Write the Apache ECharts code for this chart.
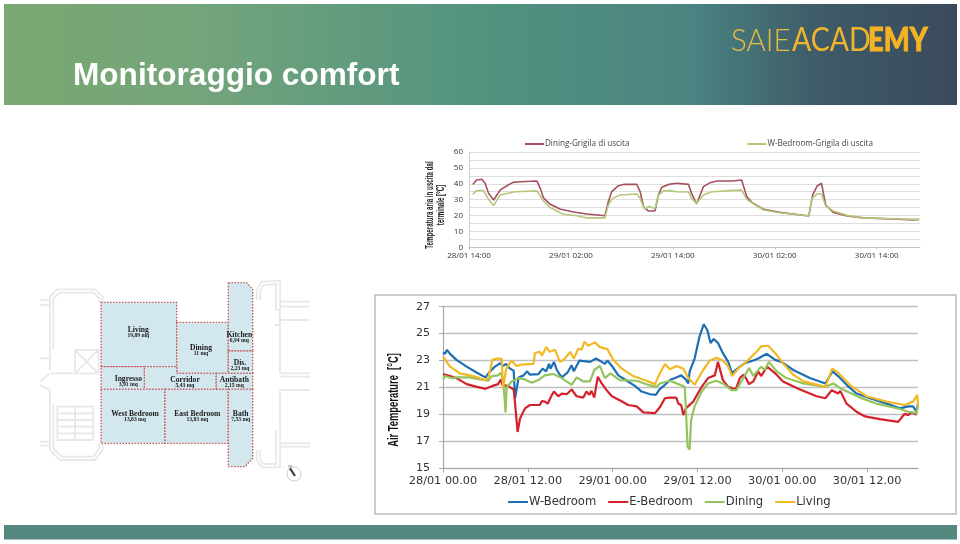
<!DOCTYPE html>
<html>
<head>
<meta charset="utf-8">
<style>html,body{margin:0;padding:0;background:#fff}#c{width:960px;height:544px;filter:blur(0.35px)}</style>
<script src="https://cdn.jsdelivr.net/npm/echarts@6/dist/echarts.min.js"></script>
</head>
<body>
<div id="c"></div>
<script>
// ---- main chart: [hours since 28/01 00.00, air temperature °C]
const airTicks = ['28/01 00.00','28/01 12.00','29/01 00.00','29/01 12.00','30/01 00.00','30/01 12.00'];
const wBedroom = [[0,23.6],[.3,23.5],[.57,23.8],[1,23.5],[1.9,23.05],[3.35,22.55],[4.8,22.1],[6,21.75],[6.65,22.2],[7.35,22.55],[8.1,22.8],[8.5,22.6],[8.9,22.75],[9.5,22.4],[10,22.25],[10.2,20.2],[10.7,21.75],[11.4,21.9],[11.9,22.2],[12.3,21.95],[13.5,22],[14.1,22.4],[14.6,22.2],[15,22.75],[15.2,22.4],[15.7,22.9],[16.1,22.3],[16.8,21.75],[17.6,22.1],[18.2,22.65],[18.5,22.2],[19.3,23],[20.8,22.9],[21.65,23.15],[22.45,22.9],[22.9,22.75],[23.25,23],[23.9,22.6],[24.8,21.9],[26,21.5],[27.2,21.1],[28.1,20.7],[29.3,20.5],[30.1,20.45],[30.7,20.9],[31.4,21.2],[32.1,21.55],[33,21.75],[33.7,21.9],[34.35,21.6],[34.7,21.3],[34.9,22.2],[35.6,23.15],[36.3,24.8],[36.9,25.7],[37.4,25.25],[37.85,24.3],[38.3,24.6],[38.9,24.3],[39.6,23.55],[40.35,22.9],[40.9,22.05],[41.4,22.3],[42,22.55],[42.7,22.8],[43.9,23],[44.6,23.15],[45.8,23.5],[47,23.05],[47.9,22.9],[49.55,22.3],[51.9,21.7],[54.1,21.3],[55.1,22.2],[55.9,21.85],[57.1,21.2],[58.5,20.55],[60.4,20.2],[62.75,19.8],[64.65,19.45],[65.8,19.6],[66.5,19.6],[67,19.2],[67.2,19.8]];
const eBedroom = [[0,22],[1,21.85],[1.9,21.7],[3.35,21.25],[4.8,21.05],[6,20.9],[6.9,21.1],[7.8,21.25],[8.2,21.6],[8.4,21.2],[9.25,21.1],[10,20.85],[10.2,19.8],[10.55,17.7],[10.9,18.7],[11.6,19.45],[12.3,19.7],[13.7,19.7],[14,20],[14.4,19.95],[14.8,19.8],[15.4,20.45],[15.7,20.7],[16.3,20.35],[16.8,20.55],[17.5,20.5],[18.2,20.85],[18.9,20.35],[19.85,20.25],[20.3,20.7],[20.7,20.45],[21,20.75],[21.4,20.25],[21.9,21.8],[22.45,21.3],[23.15,20.8],[23.9,20.35],[25,20.05],[26.2,19.7],[27.4,19.6],[28.35,19.15],[30,19.1],[30.7,19.55],[31.4,20.2],[32.1,20.25],[33,20.25],[33.3,19.8],[33.7,19.7],[34,18.95],[34.35,19.45],[35.4,19.95],[36.6,21.05],[37.5,21.7],[38.45,21.9],[38.9,22.9],[39.6,21.55],[40.35,21.05],[41.4,20.85],[42,21.7],[42.5,21.95],[42.85,21.7],[43.3,21.25],[43.9,21.45],[44.6,22.2],[45,21.85],[45.85,22.55],[47,22.05],[48.1,21.45],[50.5,20.85],[52.85,20.35],[54.1,20.2],[55,20.8],[55.9,20.55],[56.2,20.75],[57.1,19.8],[58.5,19.2],[59.7,18.85],[61.8,18.65],[64.4,18.45],[65.3,19.05],[65.8,18.95],[66.3,19.15],[67,19]];
const dining = [[0,21.6],[.3,21.85],[1.2,21.7],[1.9,21.75],[3.8,21.75],[5.2,21.6],[6.4,21.5],[6.9,21.85],[7.8,21.9],[8.2,22.1],[8.5,21.55],[8.7,20.3],[8.85,19.15],[9,21],[9.7,21.45],[10.7,21.7],[11.6,21.6],[12.55,21.35],[13.5,21.55],[14,21.75],[14.4,21.9],[15.6,22],[16.8,21.7],[18.2,21.2],[18.9,21.75],[19.85,21.45],[20.8,21.45],[21.4,22.3],[22.2,22.6],[22.9,21.7],[23.7,22.05],[25,21.55],[27.4,21.5],[29,21.2],[30.2,21.05],[30.7,21.3],[32.1,21.5],[33.3,21.25],[34.2,21.05],[34.35,19.6],[34.6,16.6],[34.9,16.4],[35.1,18.6],[35.6,19.6],[36.6,20.7],[37.5,21.3],[38.65,21.5],[39.6,21.3],[40.8,20.8],[41.5,20.8],[42.2,21.45],[43.3,22.45],[43.9,21.85],[45,22.55],[45.5,22.3],[46.1,22.9],[47.2,22.2],[48.6,21.7],[51,21.3],[54.1,21.05],[55.2,21.3],[56.2,20.95],[59,20.25],[61.35,19.8],[64.65,19.4],[65.8,19.2],[67,19.1],[67.2,19.7]];
const living = [[0,23.3],[1,22.55],[2.4,22.05],[4.3,21.85],[5.95,21.55],[6.4,21.7],[7,23.05],[7.6,23.15],[8.3,23.15],[8.5,20.95],[8.9,22.3],[9.25,22.65],[9.7,23],[10.4,22.6],[11.1,22.7],[12.8,22.75],[13,23.55],[13.7,23.65],[14,23.35],[14.6,24],[15.1,23.65],[15.85,23.8],[16.55,22.9],[17.25,23.15],[18,23.65],[18.5,23.15],[19.15,23.9],[19.6,23.8],[20,24.4],[20.55,24.1],[21.5,24.35],[22.2,24],[23.25,23.85],[24.1,23.05],[25.3,22.4],[26.9,21.85],[28.8,21.5],[30,21.25],[30.67,22.05],[31.4,22.75],[32.1,22.35],[33,22.6],[34,22.4],[34.7,21.7],[35.6,21.2],[36.8,22.3],[37.75,23],[38.7,23.2],[39.6,23],[40.35,22.55],[40.9,21.85],[41.75,22.4],[42.9,22.9],[44.35,23.65],[45,24.05],[46,24.1],[47,23.55],[48.1,22.8],[49.55,21.95],[51,21.45],[54.1,21.05],[55.05,22.4],[55.9,22.1],[57.55,21.2],[59.9,20.35],[62.75,19.95],[65.3,19.7],[66.5,19.95],[67.1,20.45],[67.2,19.6]];

// ---- upper chart: [hours since 28/01 14:00, outlet air temperature °C]
const outletTicks = ['28/01 14:00','29/01 02:00','29/01 14:00','30/01 02:00','30/01 14:00'];
const diningOutlet = [[.45,39.6],[.9,42.4],[1.5,42.8],[1.9,40.3],[2.3,34],[2.9,29.8],[3.65,36],[4.6,39.2],[5.2,40.9],[6,41.3],[8,41.7],[8.4,37.1],[8.75,31.3],[9.5,27.3],[10.7,24.1],[12.3,22.2],[13.9,21],[16,19.9],[16.4,28.7],[16.8,35],[17.6,38.8],[18.2,39.6],[19.75,39.6],[20.15,35],[20.55,25.6],[21.1,22.9],[21.9,22.9],[22.3,32.9],[22.7,37.8],[23.5,39.6],[24.45,40.3],[25.85,39.6],[26.2,34],[26.8,27.3],[27.6,38.2],[28.4,40.7],[29.2,41.7],[31,41.7],[32.1,42.4],[32.7,31.9],[33.3,28.3],[34.7,23.9],[36.6,22],[40,19.7],[40.45,32.9],[41,38.6],[41.5,40.3],[42,26.6],[42.9,22],[44.5,19.7],[46.45,18.5],[50,17.8],[52.3,17.2],[53,17.6]];
const wBedroomOutlet = [[.45,33.4],[.9,35.7],[1.7,35.7],[2.3,30.2],[2.9,26.2],[3.65,32.9],[4.6,34],[5.4,35],[8,35.5],[8.75,29.2],[9.5,25.2],[11.1,20.8],[12.7,19.9],[13.9,18.5],[16,18.5],[16.4,26.6],[16.9,30.8],[17.8,32.9],[19.75,33.6],[20.15,30.8],[20.6,24.5],[21.3,25.6],[21.9,24.5],[22.3,32.9],[22.9,35.5],[23.7,35.7],[24.45,35],[25.85,34.8],[26.2,30.8],[26.8,27.7],[27.6,32.9],[28.6,35],[30.75,35.7],[32.1,36],[32.7,30.2],[33.5,27.3],[34.7,23.5],[36.6,21.8],[40,19.9],[40.4,30.8],[41,33.6],[41.5,33.6],[42,26],[42.9,22.9],[44.5,20.1],[46.45,18.5],[50,18],[53,17.6]];

// ---- floor plan room labels: [name, area]
const roomNames = ['Living','Dining','Kitchen','Dis.','Ingresso','Corridor','Antibath','West Bedroom','East Bedroom','Bath'];
const roomAreas = ['19,89 mq','11 mq','6,94 mq','2,23 mq','3,91 mq','5,43 mq','2,15 mq','13,83 mq','13,83 mq','7,53 mq'];

// decoration layout (slide furniture, not data)
const P = (x,y)=>[30+x/3,270+y/3];
const roomLabelAt = [[325,181],[513,233],[628,196],[630,279],[295,328],[465,329],[613,329],[315,431],[502,431],[632,432]];
const roomShapes = [
 [[213,97],[440,97],[440,290],[213,290]],
 [[440,157],[595,157],[595,310],[440,310]],
 [[595,38],[650,38],[668,58],[668,243],[595,243]],
 [[595,243],[668,243],[668,310],[595,310]],
 [[558,310],[668,310],[668,358],[558,358]],
 [[343,290],[440,290],[440,310],[558,310],[558,358],[343,358]],
 [[213,290],[343,290],[343,358],[213,358]],
 [[213,358],[405,358],[405,520],[213,520]],
 [[405,358],[595,358],[595,520],[405,520]],
 [[595,358],[668,358],[668,565],[645,590],[595,590]]
];
const wallLines = [
 [[60,300],[60,80],[80,58],[195,58],[218,80],[218,97]],
 [[70,240],[70,85],[88,68],[190,68],[208,85],[208,97]],
 [[60,360],[60,540],[90,570],[195,570],[218,540],[218,520]],
 [[70,400],[70,535],[95,560],[190,560],[208,535],[208,520]],
 [[30,90],[60,90]],[[30,105],[60,105]],[[30,515],[60,515]],[[30,527],[60,527]],
 [[30,265],[60,265]],[[30,335],[60,310]],[[30,345],[60,360]],
 [[135,240],[205,240],[205,310],[135,310],[135,240],[205,310]],[[205,240],[135,310]],
 [[62,310],[130,310]],
 [[82,410],[190,410],[190,510],[82,510],[82,410]],[[82,430],[190,430]],[[82,450],[190,450]],[[82,470],[190,470]],[[82,490],[190,490]],[[135,410],[135,510]],
 [[680,90],[680,60],[695,35],[750,32],[750,310]],[[690,90],[690,65],[700,45],[738,42],[738,120]],
 [[680,540],[680,570],[695,592],[750,592],[750,360]],[[690,540],[690,565],[700,582],[738,582],[738,480]],
 [[750,95],[840,95]],[[750,110],[840,110]],[[750,520],[840,520]],[[750,530],[840,530]],
 [[750,150],[840,150]],[[750,310],[840,310]],[[750,320],[840,320]],[[750,360],[840,360]],
 [[735,120],[750,120],[750,165],[735,165]]
];

const gfx = [];
gfx.push({type:'rect',silent:true,shape:{x:4,y:4,width:953,height:101},style:{fill:{type:'linear',x:0,y:0,x2:1,y2:0,colorStops:[{offset:0,color:'#7aa871'},{offset:.2,color:'#74a57b'},{offset:.5,color:'#52937f'},{offset:.72,color:'#4a8481'},{offset:.85,color:'#3f5c68'},{offset:1,color:'#3a4a5c'}]}}});
gfx.push({type:'rect',silent:true,shape:{x:4,y:525,width:953,height:14.5},style:{fill:'#55887e'}});
gfx.push({type:'text',silent:true,x:73,y:60,style:{text:'Monitoraggio comfort',fill:'#ffffff',font:'bold 31.6px "Liberation Sans"'}});
gfx.push({type:'text',silent:true,x:731,y:25,scaleX:.92,style:{text:'SAIE',fill:'#e8bd45',font:'300 32px Lato'}});
gfx.push({type:'text',silent:true,x:792,y:25,scaleX:.89,style:{text:'ACAD',fill:'#efb52f',font:'400 32px Lato'}});
gfx.push({type:'text',silent:true,x:868,y:25,scaleX:.855,style:{text:'EMY',fill:'#f5b324',stroke:'#f5b324',lineWidth:.9,font:'900 32px Lato'}});
gfx.push({type:'rect',silent:true,shape:{x:375,y:295,width:581,height:219},style:{fill:'none',stroke:'#bdbdbd',lineWidth:1.5}});
gfx.push({type:'text',silent:true,x:394,y:400,rotation:Math.PI/2,scaleX:.67,style:{text:'Air Temperature  [°C]',fill:'#111',font:'bold 14px "Liberation Sans"',textAlign:'center',textVerticalAlign:'middle'}});
gfx.push({type:'text',silent:true,x:435.5,y:205,rotation:Math.PI/2,scaleX:.62,style:{text:'Temperatura aria in uscita dal\nterminale [°C]',fill:'#222',font:'bold 10px "Liberation Sans"',lineHeight:11,textAlign:'center',textVerticalAlign:'middle'}});
wallLines.forEach(l=>gfx.push({type:'polyline',silent:true,shape:{points:l.map(p=>P(p[0],p[1]))},style:{fill:'none',stroke:'#e8e8e8',lineWidth:1.8}}));
roomShapes.forEach(s=>gfx.push({type:'polygon',silent:true,shape:{points:s.map(p=>P(p[0],p[1]))},style:{fill:'#d3e7ee',stroke:'#c95a5a',lineWidth:1.4,lineDash:[1.5,1.5]}}));
gfx.push({type:'circle',silent:true,shape:{cx:P(792,612)[0],cy:P(792,612)[1],r:7},style:{fill:'#fff',stroke:'#cccccc',lineWidth:1}});
gfx.push({type:'line',silent:true,shape:{x1:P(780,595)[0],y1:P(780,595)[1],x2:P(795,618)[0],y2:P(795,618)[1]},style:{stroke:'#333',lineWidth:2}});
gfx.push({type:'text',silent:true,x:P(775,583)[0],y:P(775,583)[1],style:{text:'N',fill:'#444',font:'5px "Liberation Serif"'}});
roomNames.forEach((n,i)=>{
  const p=P(roomLabelAt[i][0],roomLabelAt[i][1]);
  gfx.push({type:'text',silent:true,x:p[0],y:p[1],style:{text:n,fill:'#1a1a1a',font:'bold 7.6px "Liberation Serif"',textAlign:'center',textVerticalAlign:'middle'}});
  gfx.push({type:'text',silent:true,x:p[0],y:p[1]+5.5,style:{text:roomAreas[i],fill:'#1a1a1a',font:'bold 5.6px "Liberation Serif"',textAlign:'center',textVerticalAlign:'middle'}});
});

const lineS=(name,data,color,w,xi)=>({name,type:'line',data,xAxisIndex:xi,yAxisIndex:xi,showSymbol:false,symbol:'none',smooth:false,animation:false,lineStyle:{color,width:w},itemStyle:{color}});

const chart = echarts.init(document.getElementById('c'));
chart.setOption({
  animation:false,
  backgroundColor:'#fff',
  graphic:{elements:gfx},
  tooltip:{show:false},
  legend:[
    {left:508,top:496,padding:0,icon:'rect',itemWidth:20,itemHeight:2,itemGap:12,selectedMode:false,
     data:['W-Bedroom','E-Bedroom','Dining','Living'],
     textStyle:{fontFamily:'DejaVu Sans',fontSize:11.6,color:'#333',padding:[0,0,0,-4]}},
    {left:525,top:140,padding:0,icon:'rect',itemWidth:19,itemHeight:2,itemGap:118,selectedMode:false,
     data:['Dining-Grigila di uscita','W-Bedroom-Grigila di uscita'],
     textStyle:{fontFamily:'Open Sans',fontSize:8.1,color:'#444',padding:[0,0,0,-4]}}
  ],
  grid:[
    {left:443,right:42,top:306.7,bottom:75.7},
    {left:469,right:40,top:152,bottom:296.7}
  ],
  xAxis:[
    {type:'value',gridIndex:0,min:0,max:67.2,interval:12,splitLine:{show:false},
     axisLine:{lineStyle:{color:'#a8a8a8',width:1.2}},
     axisTick:{length:4,lineStyle:{color:'#a8a8a8'},customValues:[0,12,24,36,48,60]},
     axisLabel:{customValues:[0,12,24,36,48,60],formatter:v=>airTicks[v/12]||'',color:'#333',fontFamily:'DejaVu Sans',fontSize:11.3,margin:7,hideOverlap:false}},
    {type:'value',gridIndex:1,min:0,max:53.1,interval:12,splitLine:{show:false},
     axisLine:{lineStyle:{color:'#c4c4c4',width:1}},
     axisTick:{length:2,lineStyle:{color:'#c4c4c4'},customValues:[0,12,24,36,48]},
     axisLabel:{customValues:[0,12,24,36,48],formatter:v=>outletTicks[v/12]||'',color:'#333',fontFamily:'Open Sans',fontSize:8,margin:4,hideOverlap:false}}
  ],
  yAxis:[
    {type:'value',gridIndex:0,min:15,max:27,interval:2,
     axisLine:{show:true,lineStyle:{color:'#a8a8a8',width:1.2}},
     axisTick:{show:true,length:4,lineStyle:{color:'#a8a8a8'}},
     splitLine:{lineStyle:{color:'#c0c0c0',width:1.3}},
     axisLabel:{color:'#333',fontFamily:'DejaVu Sans',fontSize:11,margin:13}},
    {type:'value',gridIndex:1,min:0,max:60,interval:5,
     axisLine:{show:true,lineStyle:{color:'#d0d0d0'}},
     axisTick:{show:false},
     splitLine:{lineStyle:{color:'#dedede',width:1}},
     axisLabel:{formatter:v=>v%10===0?String(v):'',color:'#333',fontFamily:'Open Sans',fontSize:8,margin:6}}
  ],
  series:[
    lineS('W-Bedroom',wBedroom,'#1c6fb4',2.2,0),
    lineS('E-Bedroom',eBedroom,'#d4212b',2.2,0),
    lineS('Dining',dining,'#93c45d',2.2,0),
    lineS('Living',living,'#f0b925',2.2,0),
    lineS('Dining-Grigila di uscita',diningOutlet,'#a5505f',1.6,1),
    lineS('W-Bedroom-Grigila di uscita',wBedroomOutlet,'#b4c87c',1.6,1)
  ]
});
</script>
</body>
</html>
